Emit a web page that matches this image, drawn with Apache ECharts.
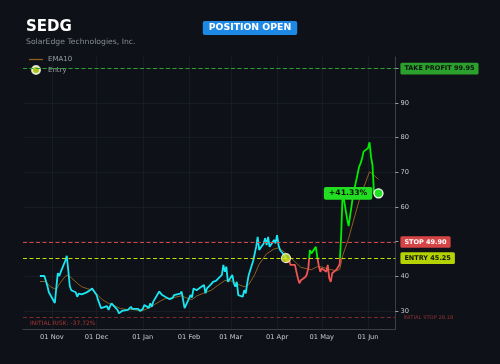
<!DOCTYPE html>
<html>
<head>
<meta charset="utf-8">
<script src="https://cdn.jsdelivr.net/npm/echarts@6/dist/echarts.min.js"></script>
<style>
  html, body { margin: 0; padding: 0; background: #0e1117; }
  #chart { width: 500px; height: 364px; }
</style>
</head>
<body>
<div id="chart"></div>
<script>
const FONT = 'DejaVu Sans'

// trading days (Mon-Fri) from the first to the last session
const firstDay = '2025-10-24'
const lastDay = '2026-06-08'

// daily closes, one per trading day
const closes = [
  40.1,
  40.1, 40.0, 37.2, 35.4, 35.6,
  32.3, 36.8, 40.9, 40.1, 41.3,
  44.5, 45.9, 41.8, 37.2, 36.0,
  35.4, 34.1, 35.0, 34.6, 34.8,
  35.3, 35.6, 35.8, 36.0, 36.5,
  34.6, 33.2, 33.7, 30.8, 31.2,
  31.4, 30.3, 31.3, 32.2, 31.9,
  30.3, 29.3, 28.9, 30.0, 29.6,
  30.3, 30.8, 31.2, 30.6, 30.5,
  30.6, 30.0, 29.6, 30.6, 31.7,
  30.9, 32.2, 31.2, 32.7, 33.0,
  35.6, 35.4, 34.6, 35.1, 34.1,
  33.4, 32.9, 33.8, 34.6, 35.1,
  35.0, 35.6, 36.0, 30.8, 30.9,
  34.6, 33.9, 36.5, 36.2, 36.0,
  36.9, 36.5, 37.5, 35.1, 36.5,
  37.8, 38.4, 38.0, 38.7, 38.9,
  40.4, 43.3, 41.3, 42.8, 38.4,
  40.4, 38.0, 37.0, 38.4, 34.6,
  34.1, 36.0, 35.1, 38.0, 40.4,
  44.5, 46.5, 48.5, 51.4, 47.6,
  49.5, 51.0, 49.0, 51.4, 48.5,
  50.5, 49.5, 51.9, 49.0, 47.6,
  46.0, 45.25, 44.0, 44.7, 43.3,
  43.3, 41.3, 39.4, 38.0, 38.9,
  39.8, 40.6, 42.5, 47.6, 46.6,
  48.5, 45.5, 43.0, 41.3, 42.3,
  41.3, 43.3, 39.4, 38.4, 40.9,
  42.0, 41.5, 43.5, 52.0, 64.4,
  56.5, 54.5, 57.5, 60.5, 63.5,
  69.5, 71.6, 72.6, 74.0, 76.0,
  77.0, 78.7, 74.5, 72.0, 64.0,
  63.95
]

const emaDates = [
  '2025-10-24', '2025-10-28', '2025-10-31', '2025-11-04', '2025-11-06', '2025-11-10',
  '2025-11-12', '2025-11-14', '2025-11-18', '2025-11-21', '2025-11-25', '2025-11-28',
  '2025-12-02', '2025-12-05', '2025-12-09', '2025-12-12', '2025-12-17', '2025-12-22',
  '2025-12-26', '2025-12-31', '2026-01-06', '2026-01-09', '2026-01-13', '2026-01-16',
  '2026-01-21', '2026-01-27', '2026-01-30', '2026-02-03', '2026-02-06', '2026-02-11',
  '2026-02-16', '2026-02-20', '2026-02-25', '2026-03-02', '2026-03-05', '2026-03-10',
  '2026-03-13', '2026-03-17', '2026-03-20', '2026-03-25', '2026-03-30', '2026-04-02',
  '2026-04-06', '2026-04-09', '2026-04-14', '2026-04-17', '2026-04-21', '2026-04-24',
  '2026-04-28', '2026-05-01', '2026-05-06', '2026-05-11', '2026-05-13', '2026-05-15',
  '2026-05-19', '2026-05-22', '2026-05-26', '2026-05-29', '2026-06-02', '2026-06-04',
  '2026-06-08'
]
const emaValues = [
  38.5, 38.5, 37.0, 36.2, 37.8, 40.0,
  40.4, 39.6, 38.0, 37.0, 36.4, 36.1,
  34.5, 33.2, 32.2, 31.7, 30.7, 30.4,
  30.4, 30.0, 31.0, 31.9, 32.9, 33.6,
  33.8, 34.4, 33.8, 33.3, 34.3, 35.2,
  36.0, 37.3, 38.8, 38.6, 37.8, 37.0,
  37.6, 40.5, 43.5, 46.5, 47.9, 48.2,
  47.0, 45.9, 43.8, 42.6, 42.2, 41.9,
  42.8, 42.7, 42.0, 41.6, 42.0, 46.0,
  51.0, 55.7, 61.8, 65.5, 70.2, 69.5,
  68.0
]

const entryDate = '2026-04-07'
const entryPrice = 45.25
const stopPrice = 49.90
const takeProfit = 99.95
const initialStop = 28.18

const monthTicks = ['2025-11-01', '2025-12-01', '2026-01-01', '2026-02-01', '2026-03-01', '2026-04-01', '2026-05-01', '2026-06-01']
const monthLabels = ['01 Nov', '01 Dec', '01 Jan', '01 Feb', '01 Mar', '01 Apr', '01 May', '01 Jun']
const priceTicks = [30, 40, 50, 60, 70, 80, 90, 100]

function day(s) {
  const [y, m, d] = s.split('-').map(Number)
  return new Date(y, m - 1, d).getTime()
}

function tradingDays(from, to) {
  const out = []
  const d = new Date(day(from))
  const end = day(to)
  while (d.getTime() <= end) {
    const wd = d.getDay()
    if (wd !== 0 && wd !== 6) out.push(d.getTime())
    d.setDate(d.getDate() + 1)
  }
  return out
}

const times = tradingDays(firstDay, lastDay)
const priceData = times.map((t, i) => [t, closes[i]])
const entryTime = day(entryDate)
const entryIdx = times.indexOf(entryTime)
const preEntry = priceData.slice(0, entryIdx + 1)
const inPosition = priceData.slice(entryIdx)
const emaData = emaDates.map((d, i) => [day(d), emaValues[i]])

const lastTime = times[times.length - 1]
const lastPrice = closes[closes.length - 1]
const pnl = (lastPrice / entryPrice - 1) * 100
const risk = (initialStop / entryPrice - 1) * 100

const span = lastTime - times[0]
const xMin = times[0] - span * 0.05
const xMax = lastTime + span * 0.05
const monthTimes = monthTicks.map(day)

const EMA_COLOR = '#8f5e1f'

const badge = (text, bg, fg) => ({
  show: true,
  position: 'end',
  distance: 5,
  formatter: text,
  backgroundColor: bg,
  color: fg,
  fontWeight: 'bold',
  fontSize: 6.5,
  fontFamily: FONT,
  padding: [2.3, 4],
  borderRadius: 1.5,
})

const chart = echarts.init(document.getElementById('chart'))

chart.setOption({
  animation: false,
  backgroundColor: '#0e1117',
  textStyle: { fontFamily: FONT },
  title: [
    {
      text: 'SEDG',
      subtext: 'SolarEdge Technologies, Inc.',
      left: 26,
      top: 20,
      padding: 0,
      itemGap: 3,
      textStyle: { color: '#ffffff', fontSize: 15, fontWeight: 'bold', fontFamily: FONT },
      subtextStyle: { color: '#868b93', fontSize: 7.7, fontFamily: FONT },
    },
    {
      text: 'POSITION OPEN',
      left: 'center',
      top: 21,
      padding: [2.5, 6],
      backgroundColor: '#1e88e5',
      borderRadius: 2,
      textStyle: { color: '#ffffff', fontSize: 9.3, fontWeight: 'bold', fontFamily: FONT },
    },
  ],
  legend: {
    data: [
      { name: 'EMA10', icon: 'path://M0,0 L14,0 L14,1.3 L0,1.3 Z', itemStyle: { color: EMA_COLOR } },
      { name: 'Entry' },
    ],
    orient: 'vertical',
    left: 29,
    top: 56,
    padding: 0,
    itemWidth: 14,
    itemHeight: 8,
    itemGap: 2,
    symbolKeepAspect: true,
    selectedMode: false,
    textStyle: { color: '#9a9fa7', fontSize: 7, fontFamily: FONT },
  },
  grid: { left: 23, right: 104.6, top: 57, bottom: 35 },
  xAxis: {
    type: 'value',
    min: xMin,
    max: xMax,
    axisLine: { show: true, lineStyle: { color: '#3a3f48', width: 1 } },
    axisTick: { show: false, customValues: monthTimes },
    axisLabel: {
      customValues: monthTimes,
      formatter: (v) => monthLabels[monthTimes.indexOf(v)] || '',
      color: '#c6cad0',
      fontSize: 6.7,
      margin: 5,
      fontFamily: FONT,
    },
    splitLine: { show: true, lineStyle: { color: '#1a1f28', width: 0.8 } },
  },
  yAxis: {
    type: 'value',
    position: 'right',
    min: 24.8,
    max: 103.3,
    axisLine: { show: true, lineStyle: { color: '#3a3f48', width: 1 } },
    axisTick: { show: true, length: 3, customValues: priceTicks, lineStyle: { color: '#9aa0a8' } },
    axisLabel: {
      customValues: priceTicks,
      color: '#c6cad0',
      fontSize: 6.7,
      margin: 5,
      fontFamily: FONT,
    },
    splitLine: { show: true, lineStyle: { color: '#1a1f28', width: 0.8 } },
  },
  visualMap: {
    show: false,
    type: 'piecewise',
    seriesIndex: 2,
    dimension: 1,
    pieces: [
      { gte: 0, lt: entryPrice, color: '#f05454' },
      { gte: entryPrice, lte: 1000, color: '#00ee00' },
    ],
  },
  series: [
    {
      name: 'EMA10',
      type: 'line',
      data: emaData,
      symbol: 'none',
      lineStyle: { color: EMA_COLOR, width: 1 },
      itemStyle: { color: EMA_COLOR },
      z: 1,
    },
    {
      name: 'Price',
      type: 'line',
      data: preEntry,
      symbol: 'none',
      lineStyle: { color: '#19e6f2', width: 1.8 },
      itemStyle: { color: '#19e6f2' },
      z: 3,
      markLine: {
        silent: true,
        symbol: 'none',
        animation: false,
        data: [
          {
            yAxis: takeProfit,
            lineStyle: { color: '#2ca02c', type: [4, 2.5], width: 1.2 },
            label: badge('TAKE PROFIT ' + takeProfit.toFixed(2), '#2ca02c', '#0b120b'),
          },
          {
            yAxis: stopPrice,
            lineStyle: { color: '#d64545', type: [4, 2.5], width: 1.2 },
            label: badge('STOP ' + stopPrice.toFixed(2), '#d64545', '#ffffff'),
          },
          {
            yAxis: entryPrice,
            lineStyle: { color: '#c2df00', type: [4, 2.5], width: 1.2 },
            label: badge('ENTRY ' + entryPrice.toFixed(2), '#b4d300', '#10140a'),
          },
          {
            yAxis: initialStop,
            lineStyle: { color: '#7a2c2c', type: [4, 2.5], width: 1.2 },
            label: {
              show: true,
              position: 'end',
              distance: 8,
              formatter: 'INITIAL STOP ' + initialStop.toFixed(2),
              color: '#8e3434',
              fontSize: 5.2,
              fontFamily: FONT,
            },
          },
          {
            yAxis: initialStop,
            lineStyle: { color: 'rgba(0,0,0,0)', width: 0 },
            label: {
              show: true,
              position: 'insideStartBottom',
              distance: [7, 3],
              formatter: 'INITIAL RISK: ' + risk.toFixed(2) + '%',
              color: '#a33838',
              fontSize: 6,
              fontFamily: FONT,
            },
          },
        ],
      },
      markPoint: {
        silent: true,
        animation: false,
        data: [
          {
            coord: [lastTime, lastPrice],
            symbol: 'circle',
            symbolSize: 9,
            itemStyle: { color: '#22e022', borderColor: '#ffffff', borderWidth: 1.3 },
            label: {
              show: true,
              position: 'left',
              distance: 1,
              formatter: '+' + pnl.toFixed(2) + '%',
              backgroundColor: '#22dd22',
              color: '#081008',
              fontWeight: 'bold',
              fontSize: 7.7,
              fontFamily: FONT,
              padding: [2.3, 5],
              borderRadius: 2,
            },
          },
        ],
      },
    },
    {
      name: 'Position',
      type: 'line',
      data: inPosition,
      symbol: 'none',
      lineStyle: { width: 1.8 },
      z: 3,
    },
    {
      name: 'Entry',
      type: 'scatter',
      data: [[entryTime, entryPrice]],
      symbolSize: 9,
      itemStyle: { color: '#d4f01a', borderColor: '#ffffff', borderWidth: 1.2 },
      z: 5,
    },
  ],
})
</script>
</body>
</html>
